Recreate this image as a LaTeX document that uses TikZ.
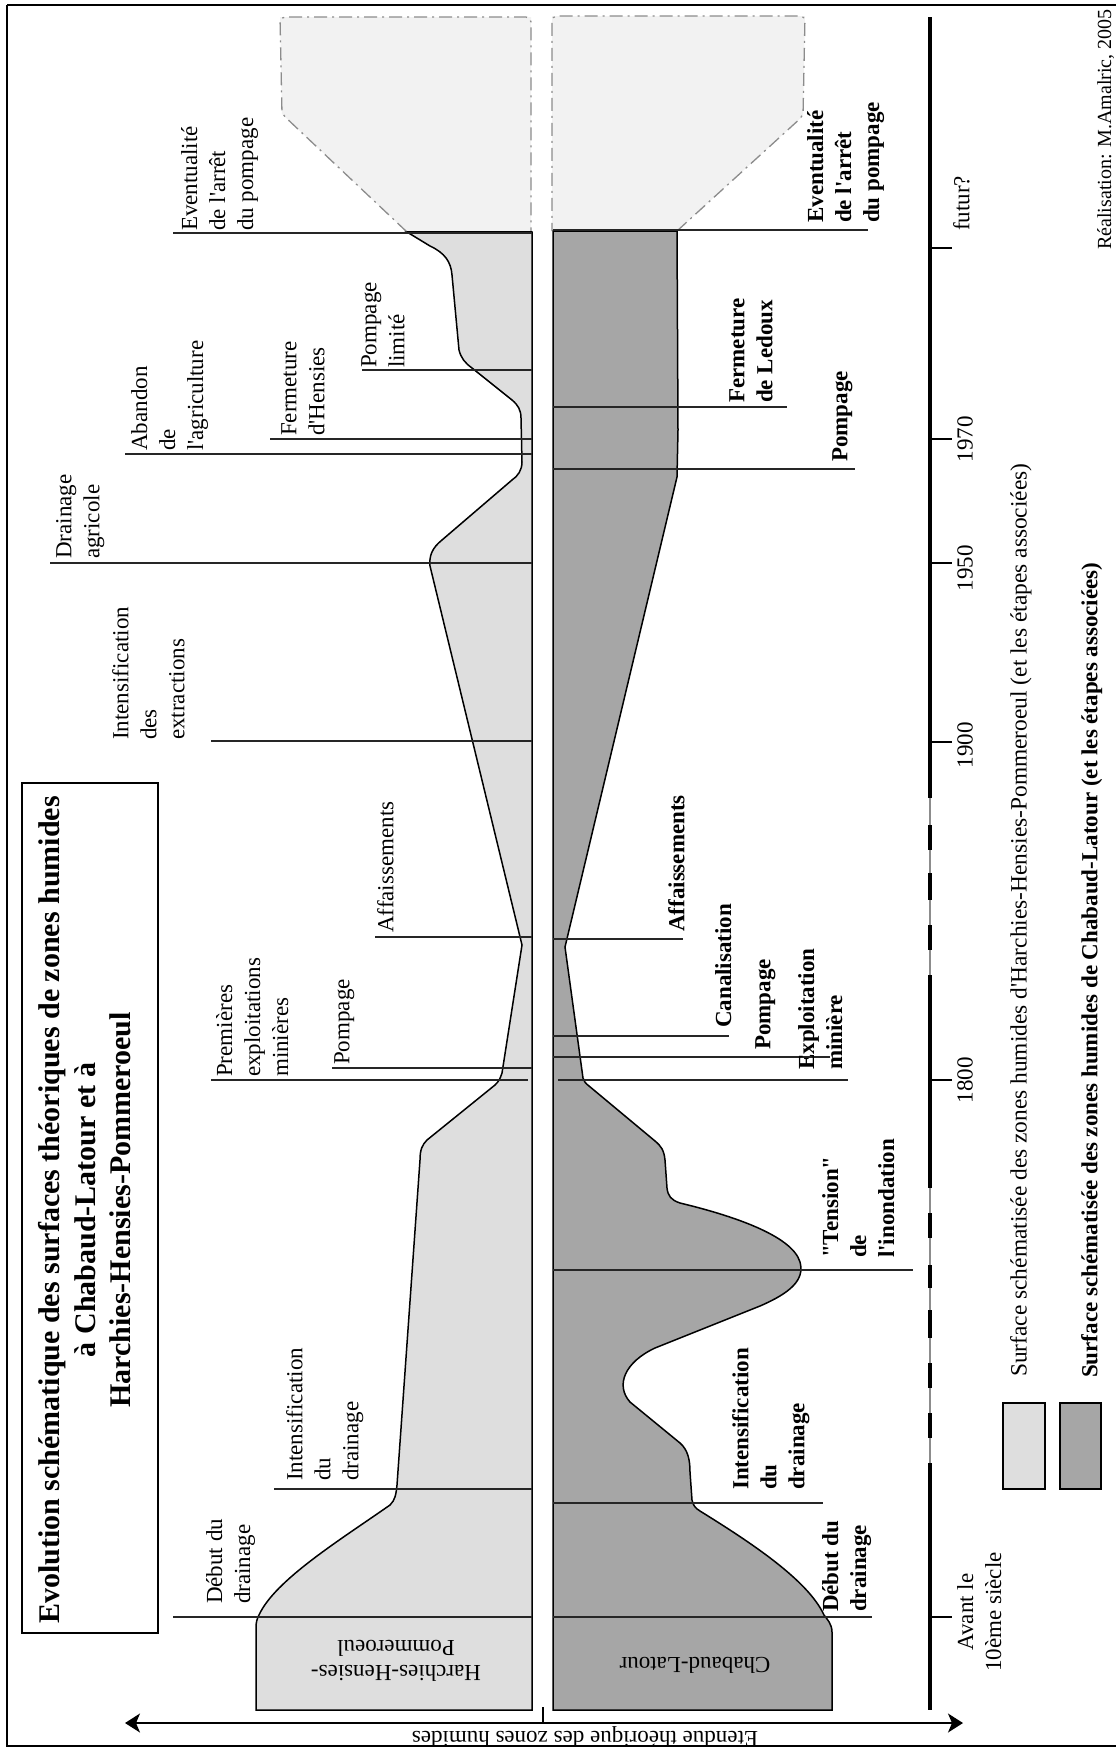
\documentclass[tikz,border=0pt]{standalone}
\usepackage{fontspec}
\setmainfont{Liberation Serif}[Ligatures=TeXOff]
\usetikzlibrary{arrows.meta}
\definecolor{hhpfill}{HTML}{DEDEDE}
\definecolor{chafill}{HTML}{A6A6A6}
\definecolor{futfill}{HTML}{F2F2F2}
\definecolor{futline}{HTML}{8C8C8C}
\begin{document}
\begin{tikzpicture}[x=1pt,y=-1pt,
  lbl/.style={rotate=90, anchor=north west, align=left, inner sep=0pt, font=\fontsize{23}{28}\selectfont},
  blbl/.style={lbl, font=\fontsize{23}{28}\selectfont\bfseries},
  yr/.style={lbl, anchor=north, align=center},
  boxlbl/.style={rotate=180, align=center, inner sep=0pt, font=\fontsize{23}{25}\selectfont},
  lead/.style={line width=1.4pt, draw=black!85},
  edge/.style={line width=1.5pt, draw=black},
  fut/.style={line width=1.3pt, draw=futline, dash pattern=on 13pt off 5pt on 2pt off 5pt, rounded corners=5pt},
  axis/.style={line width=4.5pt, draw=black},
  tick/.style={line width=1.5pt, draw=black}]
\useasboundingbox (0,0) rectangle (1116,1749);
\fill[white] (0,0) rectangle (1116,1749);
% outer frame
\draw[line width=2pt] (7,5) -- (7,1746) -- (1130,1746);
\draw[line width=2pt] (7,5) -- (1130,5);
% title
\draw[line width=1.5pt] (22,783) rectangle (158,1633);
\node[rotate=90, align=center, inner sep=0pt, font=\fontsize{30}{35.5}\selectfont\bfseries] (title) at (85,1210)
  {Evolution schématique des surfaces théoriques de zones humides\\à Chabaud-Latour et à\\Harchies-Hensies-Pommeroeul};
% future regions
\fill[futfill] (407,232) -- (282,114) -- (280,17) -- (531,17) -- (531,232) -- cycle;
\draw[fut] (407,232) -- (282,114) -- (280,17) -- (531,17) -- (531,232);
\fill[futfill] (677,231) -- (803,116) -- (805,16) -- (552,16) -- (552,231) -- cycle;
\draw[fut] (677,231) -- (803,116) -- (805,16) -- (552,16) -- (552,231);
% Harchies-Hensies-Pommeroeul region
\filldraw[fill=hhpfill, edge] (532,232) -- (407,232) -- (430,246) .. controls (445,253) and (451,262) .. (452,275)
  -- (459,350) .. controls (461,358) and (465,363) .. (472,368) -- (512,400)
  .. controls (518,405) and (521,410) .. (521,418) -- (522,462) .. controls (522,470) and (518,476) .. (512,480)
  -- (442,540) .. controls (432,548) and (429,556) .. (430,566) -- (522,945) -- (502,1073)
  .. controls (500,1079) and (499,1081) .. (495,1085) -- (427,1140) .. controls (422,1145) and (420,1150) .. (420,1160)
  -- (397,1485) .. controls (396,1495) and (395,1500) .. (390,1505)
  .. controls (340,1540) and (275,1580) .. (259,1615) .. controls (257,1619) and (256,1622) .. (256,1628)
  -- (256,1710) -- (532,1710) -- cycle;
\draw[line width=3pt] (407,232) -- (532,232);
% Chabaud-Latour region
\filldraw[fill=chafill, edge] (553,231) -- (677,231) -- (678,430) -- (677,477) -- (565,947) -- (583,1078)
  .. controls (584,1081) and (585,1083) .. (589,1086) -- (655,1141) .. controls (661,1146) and (664,1150) .. (665,1160)
  -- (667,1188) .. controls (668,1196) and (671,1200) .. (680,1203)
  .. controls (730,1215) and (792,1235) .. (800,1262) .. controls (805,1280) and (790,1293) .. (760,1306)
  -- (655,1348) .. controls (625,1362) and (615,1385) .. (630,1402) -- (680,1443)
  .. controls (688,1450) and (690,1460) .. (690,1472) -- (692,1500) .. controls (693,1505) and (695,1508) .. (700,1511)
  .. controls (750,1542) and (808,1580) .. (824,1615) .. controls (827,1619) and (832,1624) .. (832,1632)
  -- (832,1710) -- (553,1710) -- cycle;
\draw[line width=3pt] (553,230) -- (677,230);
% leader lines, Harchies-Hensies-Pommeroeul
\draw[lead] (173,233) -- (532,233);
\draw[lead] (362,370) -- (532,370);
\draw[lead] (270,439) -- (532,439);
\draw[lead] (125,454) -- (532,454);
\draw[lead] (50,563) -- (532,563);
\draw[lead] (211,741) -- (532,741);
\draw[lead] (375,937) -- (532,937);
\draw[lead] (332,1068) -- (532,1068);
\draw[lead] (211,1080) -- (528,1080);
\draw[lead] (274,1489) -- (532,1489);
\draw[lead] (173,1617) -- (532,1617);
% leader lines, Chabaud-Latour
\draw[lead] (553,230) -- (868,230);
\draw[lead] (553,407) -- (787,407);
\draw[lead] (553,469) -- (855,469);
\draw[lead] (553,939) -- (683,939);
\draw[lead] (553,1036) -- (729,1036);
\draw[lead] (553,1057) -- (830,1057);
\draw[lead] (558,1080) -- (848,1080);
\draw[lead] (553,1270) -- (913,1270);
\draw[lead] (553,1503) -- (823,1503);
\draw[lead] (553,1617) -- (872,1617);
% labels, Harchies-Hensies-Pommeroeul
\node[lbl] (h1) at (181,231) {Eventualité\\de l'arrêt\\du pompage};
\node[lbl] (h2) at (361,368) {Pompage\\limité};
\node[lbl] (h3) at (281,436) {Fermeture\\d'Hensies};
\node[lbl] (h4) at (131,451) {Abandon\\de\\l'agriculture};
\node[lbl] (h5) at (56,559) {Drainage\\agricole};
\node[lbl] (h6) at (112,740) {Intensification\\des\\extractions};
\node[lbl] (h7) at (377,933) {Affaissements};
\node[lbl] (h8) at (334,1065) {Pompage};
\node[lbl] (h9) at (216,1077) {Premières\\exploitations\\minières};
\node[lbl] (h10) at (286,1481) {Intensification\\du\\drainage};
\node[lbl] (h11) at (206,1604) {Début du\\drainage};
% labels, Chabaud-Latour
\node[blbl] (c1) at (807,223) {Eventualité\\de l'arrêt\\du pompage};
\node[blbl] (c2) at (729,403) {Fermeture\\de Ledoux};
\node[blbl] (c3) at (832,462) {Pompage};
\node[blbl] (c4) at (668,932) {Affaissements};
\node[blbl] (c5) at (715,1028) {Canalisation};
\node[blbl] (c6) at (755,1050) {Pompage};
\node[blbl] (c7) at (798,1070) {Exploitation\\minière};
\node[blbl] (c8) at (822,1258) {"Tension"\\de\\l'inondation};
\node[blbl] (c9) at (732,1490) {Intensification\\du\\drainage};
\node[blbl] (c10) at (822,1612) {Début du\\drainage};
% region names
\node[boxlbl] (nh) at (396,1661) {Harchies-Hensies-\\Pommeroeul};
\node[boxlbl] (nc) at (695,1665) {Chabaud-Latour};
% extent axis
\coordinate (eL) at (125,1723);
\coordinate (eR) at (963,1723);
\draw[line width=1.5pt, {Stealth[length=15pt,width=19pt,inset=4pt]}-{Stealth[length=15pt,width=19pt,inset=4pt]}] (eL) -- (eR);
\draw[tick] (543,1723) -- (543,1707);
\node[boxlbl] (ext) at (585,1737) {Etendue théorique des zones humides};
% time axis
\draw[line width=1.2pt, draw=black!45] (930,17) -- (930,1710);
\draw[axis] (930,17) -- (930,798);
\draw[axis] (930,975) -- (930,1188);
\draw[axis] (930,1463) -- (930,1710);
\foreach \a/\b in {825/850,873/900,925/950,1213/1238,1265/1288,1310/1338,1363/1388,1413/1438}
  \draw[axis] (930,\a) -- (930,\b);
\foreach \t in {248,439,563,742,1080,1617}
  \draw[tick] (930,\t) -- (952,\t);
\node[lbl] (tf) at (953,231) {futur?};
\node[yr] (t1970) at (957,439) {1970};
\node[yr] (t1950) at (957,568) {1950};
\node[yr] (t1900) at (957,745) {1900};
\node[yr] (t1800) at (957,1080) {1800};
\node[yr] (t0) at (957,1612) {Avant le\\10ème siècle};
% legend
\draw[line width=1.4pt, fill=hhpfill] (1003,1403) rectangle (1045,1489);
\draw[line width=1.4pt, fill=chafill] (1060,1403) rectangle (1101,1489);
\node[lbl, font=\fontsize{23.4}{28}\selectfont] (leg1) at (1010,1377) {Surface schématisée des zones humides d'Harchies-Hensies-Pommeroeul (et les étapes associées)};
\node[blbl] (leg2) at (1081,1378) {Surface schématisée des zones humides de Chabaud-Latour (et les étapes associées)};
\node[lbl, font=\fontsize{20}{24}\selectfont] (real) at (1097,250) {Réalisation: M.Amalric, 2005};
\end{tikzpicture}
\end{document}
